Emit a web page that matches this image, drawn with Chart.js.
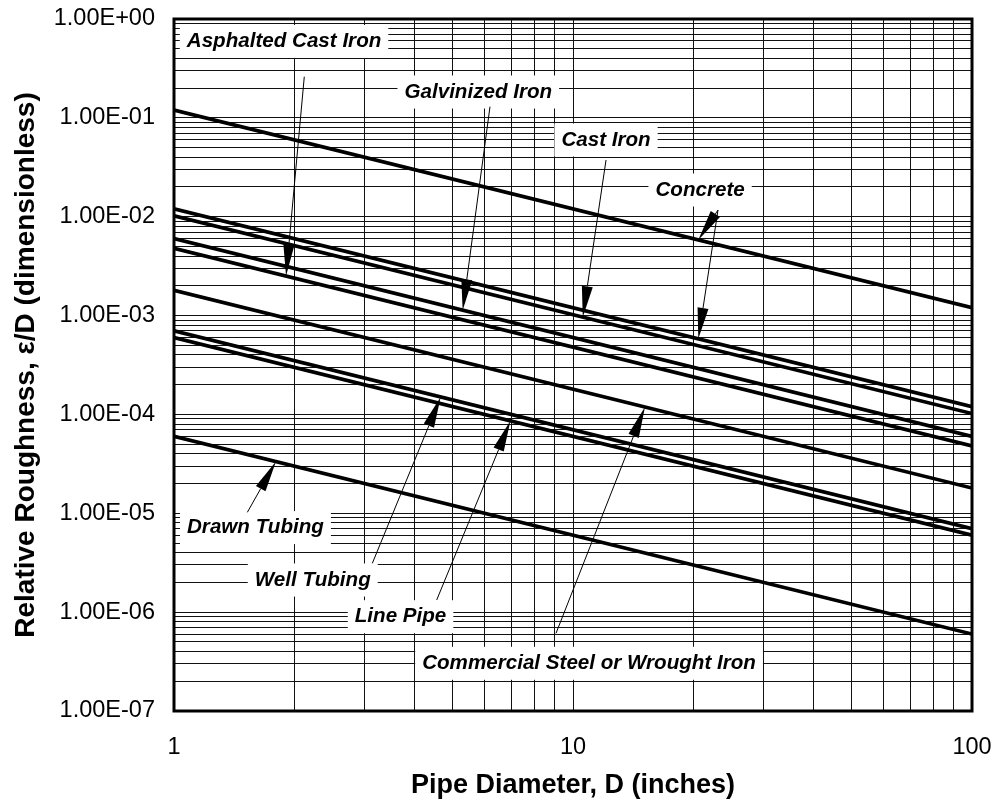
<!DOCTYPE html>
<html>
<head>
<meta charset="utf-8">
<script src="https://cdn.jsdelivr.net/npm/chart.js@4/dist/chart.umd.min.js"></script>
<style>
  html, body { margin: 0; padding: 0; background: #fff; }
  #wrap { width: 997px; height: 803px; }
</style>
</head>
<body>
<div id="wrap"><canvas id="chart" width="997" height="803"></canvas></div>
<script>
// Pipe diameter (inches) at the two ends of each roughness line
const diameters = [1, 100];

// Relative roughness e/D at D = 1 in and D = 100 in
const concreteCoarse    = [0.12,    0.0012];
const concreteSmooth    = [0.012,   0.00012];
const castIron          = [0.0102,  0.000102];
const galvanizedIron    = [0.006,   0.00006];
const asphaltedCastIron = [0.0048,  0.000048];
const commercialSteel   = [0.0018,  0.000018];
const wellTubing        = [0.0007,  0.000007];
const linePipe          = [0.0006,  0.000006];
const drawnTubing       = [0.00006, 0.0000006];

// Axis ticks
const xTickValues = [1, 10, 100];
const xTickLabels = ['1', '10', '100'];
const yTickValues = [1e-7, 1e-6, 1e-5, 1e-4, 1e-3, 1e-2, 1e-1, 1];
const yTickLabels = ['1.00E-07', '1.00E-06', '1.00E-05', '1.00E-04', '1.00E-03', '1.00E-02', '1.00E-01', '1.00E+00'];

const FONT = "'Liberation Sans', Arial, sans-serif";

const series = [
  { name: 'Concrete (coarse)', values: concreteCoarse },
  { name: 'Concrete (smooth)', values: concreteSmooth },
  { name: 'Cast Iron', values: castIron },
  { name: 'Galvinized Iron', values: galvanizedIron },
  { name: 'Asphalted Cast Iron', values: asphaltedCastIron },
  { name: 'Commercial Steel or Wrought Iron', values: commercialSteel },
  { name: 'Well Tubing', values: wellTubing },
  { name: 'Line Pipe', values: linePipe },
  { name: 'Drawn Tubing', values: drawnTubing }
];

// Callout labels (anchored in data units) with leader arrows pointing at a line
const callouts = [
  { text: 'Asphalted Cast Iron', at: [1.887, 0.592],
    arrows: [{ from: [2.121, 0.2608], tipX: 1.909, line: asphaltedCastIron }] },
  { text: 'Galvinized Iron', at: [5.79, 0.1826],
    arrows: [{ from: [6.194, 0.1297], tipX: 5.29, line: galvanizedIron }] },
  { text: 'Cast Iron', at: [12.10, 0.0597],
    arrows: [{ from: [12.10, 0.03748], tipX: 10.58, line: castIron }] },
  { text: 'Concrete', at: [20.82, 0.01863],
    arrows: [{ from: [23.09, 0.01169], tipX: 20.61, line: concreteCoarse },
             { from: [23.09, 0.01169], tipX: 20.61, line: concreteSmooth }] },
  { text: 'Drawn Tubing', at: [1.600, 7.165e-6],
    arrows: [{ from: [1.527, 1.023e-5], tipX: 1.801, line: drawnTubing }] },
  { text: 'Well Tubing', at: [2.227, 2.114e-6],
    arrows: [{ from: [3.141, 3.12e-6], tipX: 4.66, line: wellTubing }] },
  { text: 'Line Pipe', at: [3.696, 8.99e-7],
    arrows: [{ from: [4.554, 1.327e-6], tipX: 6.97, line: linePipe }] },
  { text: 'Commercial Steel or Wrought Iron', at: [10.97, 3.038e-7],
    arrows: [{ from: [9.066, 6.11e-7], tipX: 15.15, line: commercialSteel }] }
];

// 1..9 subdivisions of every decade between lo and hi
function decadeGrid(lo, hi) {
  const out = [];
  const e0 = Math.round(Math.log10(lo)), e1 = Math.round(Math.log10(hi));
  for (let e = e0; e <= e1; e++) {
    for (let m = 1; m <= 9; m++) {
      if (e === e1 && m > 1) break;
      out.push(Number((m + 'e' + e)));
    }
  }
  return out;
}

function labelFor(values, labels, v) {
  for (let i = 0; i < values.length; i++) {
    if (Math.abs(Math.log10(v) - Math.log10(values[i])) < 1e-6) return labels[i];
  }
  return '';
}

// value on a straight log-log line given by its two end points
function lineValueAt(line, x) {
  const lx0 = Math.log10(diameters[0]), lx1 = Math.log10(diameters[1]);
  const ly0 = Math.log10(line[0]), ly1 = Math.log10(line[1]);
  const t = (Math.log10(x) - lx0) / (lx1 - lx0);
  return Math.pow(10, ly0 + t * (ly1 - ly0));
}

const frame = {
  id: 'frame',
  afterDraw(chart) {
    const { ctx, chartArea: a } = chart;
    ctx.save();
    ctx.strokeStyle = '#000';
    ctx.lineWidth = 3;
    ctx.strokeRect(a.left, a.top, a.right - a.left, a.bottom - a.top);
    ctx.restore();
  }
};

const calloutPlugin = {
  id: 'callouts',
  beforeDatasetsDraw(chart) {
    const { ctx, scales: { x, y } } = chart;
    ctx.save();
    ctx.font = 'italic bold 20.6px ' + FONT;
    ctx.textAlign = 'center';
    ctx.textBaseline = 'middle';
    callouts.forEach(c => {
      const cx = x.getPixelForValue(c.at[0]);
      const cy = y.getPixelForValue(c.at[1]);
      const w = ctx.measureText(c.text).width + 14;
      const h = 33;
      ctx.fillStyle = '#fff';
      ctx.fillRect(cx - w / 2, cy - h / 2, w, h);
      ctx.fillStyle = '#000';
      ctx.fillText(c.text, cx, cy);
    });
    ctx.restore();
  },
  afterDatasetsDraw(chart) {
    const { ctx, scales: { x, y } } = chart;
    ctx.save();
    ctx.strokeStyle = '#000';
    ctx.fillStyle = '#000';
    callouts.forEach(c => {
      c.arrows.forEach(ar => {
        const x0 = x.getPixelForValue(ar.from[0]);
        const y0 = y.getPixelForValue(ar.from[1]);
        const x1 = x.getPixelForValue(ar.tipX);
        const y1 = y.getPixelForValue(lineValueAt(ar.line, ar.tipX));
        const dx = x1 - x0, dy = y1 - y0;
        const len = Math.hypot(dx, dy);
        const ux = dx / len, uy = dy / len;
        const headLen = Math.min(31, len);
        const halfW = 5.5;
        const bx = x1 - ux * headLen, by = y1 - uy * headLen;
        ctx.lineWidth = 1;
        ctx.beginPath();
        ctx.moveTo(x0, y0);
        ctx.lineTo(bx, by);
        ctx.stroke();
        ctx.beginPath();
        ctx.moveTo(x1, y1);
        ctx.lineTo(bx - uy * halfW, by + ux * halfW);
        ctx.lineTo(bx + uy * halfW, by - ux * halfW);
        ctx.closePath();
        ctx.fill();
      });
    });
    ctx.restore();
  }
};

new Chart(document.getElementById('chart'), {
  type: 'line',
  data: {
    datasets: series.map(s => ({
      label: s.name,
      data: diameters.map((d, i) => ({ x: d, y: s.values[i] })),
      borderColor: '#000',
      borderWidth: 3.7,
      pointRadius: 0,
      fill: false,
      tension: 0
    }))
  },
  options: {
    responsive: false,
    animation: false,
    layout: { padding: { left: 0, right: 25, top: 19, bottom: 0 } },
    plugins: { legend: { display: false }, tooltip: { enabled: false } },
    scales: {
      x: {
        type: 'logarithmic',
        position: 'bottom',
        min: xTickValues[0],
        max: xTickValues[xTickValues.length - 1],
        afterBuildTicks: s => { s.ticks = decadeGrid(s.min, s.max).map(v => ({ value: v })); },
        afterFit: s => { s.height = 92; s.paddingLeft = 0; s.paddingRight = 0; },
        ticks: {
          autoSkip: false, maxRotation: 0, minRotation: 0, padding: 25, color: '#000',
          font: { family: FONT, size: 23.5, lineHeight: 1 },
          callback: v => labelFor(xTickValues, xTickLabels, v)
        },
        grid: { color: '#111', lineWidth: 1, drawTicks: false },
        border: { display: false },
        title: {
          display: true, text: 'Pipe Diameter, D (inches)', color: '#000',
          font: { family: FONT, size: 27, weight: 'bold', lineHeight: 1 },
          padding: { top: 0, bottom: 4 }
        }
      },
      y: {
        type: 'logarithmic',
        position: 'left',
        min: yTickValues[0],
        max: yTickValues[yTickValues.length - 1],
        afterBuildTicks: s => { s.ticks = decadeGrid(s.min, s.max).map(v => ({ value: v })); },
        afterFit: s => { s.width = 174; s.paddingTop = 0; s.paddingBottom = 0; },
        ticks: {
          autoSkip: false, padding: 19, color: '#000',
          font: { family: FONT, size: 23.5, lineHeight: 1 },
          callback: v => labelFor(yTickValues, yTickLabels, v)
        },
        grid: { color: '#111', lineWidth: 1, drawTicks: false },
        border: { display: false },
        title: {
          display: true, text: 'Relative Roughness, \u03B5/D (dimensionless)', color: '#000',
          font: { family: FONT, size: 28, weight: 'bold', lineHeight: 1 },
          padding: { top: 12, bottom: 0 }
        }
      }
    }
  },
  plugins: [frame, calloutPlugin]
});
</script>
</body>
</html>
